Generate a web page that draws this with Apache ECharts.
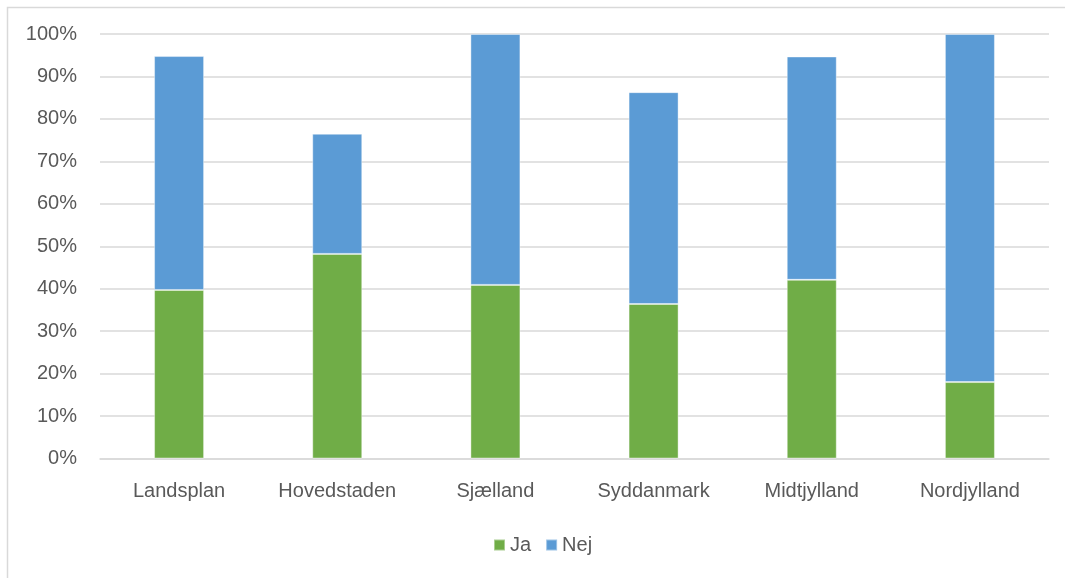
<!DOCTYPE html>
<html>
<head>
<meta charset="utf-8">
<script src="https://cdn.jsdelivr.net/npm/echarts@6/dist/echarts.min.js"></script>
<style>html,body{margin:0;padding:0;background:#fff}#c{width:1065px;height:578px}</style>
</head>
<body>
<div id="c"></div>
<script>
const categories = ['Landsplan','Hovedstaden','Sjælland','Syddanmark','Midtjylland','Nordjylland'];
const jaValues  = [39.7, 48.2, 40.9, 36.4, 42.1, 18.0];
const nejValues = [55.1, 28.3, 59.1, 49.9, 52.6, 82.0];
const yTicks = { min: 0, max: 100, interval: 10 };

const textColor = '#595959';
const font = 'Liberation Sans, Arial, sans-serif';
const chart = echarts.init(document.getElementById('c'));
chart.setOption({
  animation: false,
  backgroundColor: '#fff',
  graphic: [{
    type: 'rect', left: 5, top: 5,
    shape: { width: 1100, height: 650 },
    style: { fill: 'none', stroke: '#d9d9d9', lineWidth: 1.5 },
    silent: true, z: -1
  }],
  grid: { left: 100, right: 16, top: 34, bottom: 119.5, containLabel: false },
  legend: {
    left: 488, top: 530,
    itemWidth: 11, itemHeight: 11, itemGap: 14,
    icon: 'rect',
    textStyle: { color: textColor, fontSize: 20, fontFamily: font },
    data: ['Ja', 'Nej']
  },
  xAxis: {
    type: 'category',
    data: categories,
    axisLine: { lineStyle: { color: '#d9d9d9', width: 1.5 } },
    axisTick: { show: false },
    axisLabel: { color: textColor, fontSize: 20, fontFamily: font, margin: 23 }
  },
  yAxis: {
    type: 'value',
    min: yTicks.min, max: yTicks.max, interval: yTicks.interval,
    axisLine: { show: false },
    axisTick: { show: false },
    splitLine: { lineStyle: { color: '#d9d9d9', width: 1.5 } },
    axisLabel: { color: textColor, fontSize: 20, fontFamily: font, margin: 23, formatter: '{value}%' }
  },
  series: [
    { name: 'Ja', type: 'bar', stack: 'a', data: jaValues, barWidth: 50,
      itemStyle: { color: '#70ad47', borderColor: 'rgba(255,255,255,0.4)', borderWidth: 1 } },
    { name: 'Nej', type: 'bar', stack: 'a', data: nejValues, barWidth: 50,
      itemStyle: { color: '#5b9bd5', borderColor: 'rgba(255,255,255,0.4)', borderWidth: 1 } }
  ]
});
</script>
</body>
</html>
